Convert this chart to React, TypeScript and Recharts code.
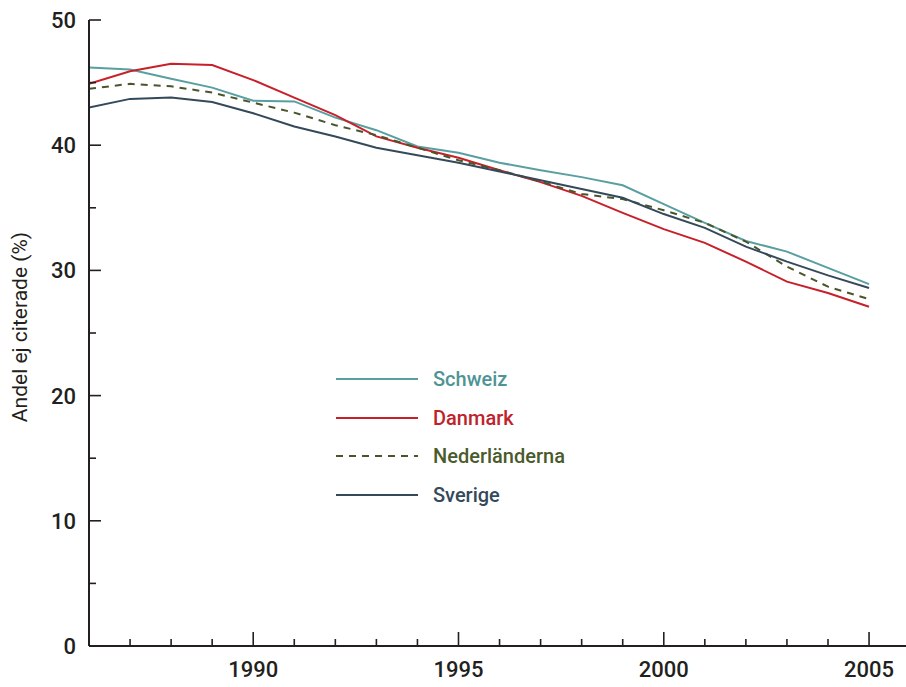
import React from "react";
import { LineChart, Line, XAxis, YAxis, Legend } from "recharts";

const years = [
  1986, 1987, 1988, 1989, 1990, 1991, 1992, 1993, 1994, 1995,
  1996, 1997, 1998, 1999, 2000, 2001, 2002, 2003, 2004, 2005,
];

const schweiz = [
  46.2, 46.05, 45.3, 44.6, 43.55, 43.5, 42.2, 41.2, 39.9, 39.4,
  38.6, 38.0, 37.45, 36.8, 35.3, 33.8, 32.35, 31.5, 30.2, 28.9,
];
const danmark = [
  44.9, 45.9, 46.5, 46.4, 45.2, 43.8, 42.4, 40.7, 39.8, 39.0,
  38.0, 37.05, 35.95, 34.6, 33.3, 32.2, 30.7, 29.1, 28.2, 27.1,
];
const nederlanderna = [
  44.5, 44.9, 44.7, 44.2, 43.4, 42.6, 41.6, 40.8, 39.8, 38.8,
  38.0, 37.1, 36.1, 35.7, 34.8, 33.8, 32.3, 30.3, 28.7, 27.7,
];
const sverige = [
  43.0, 43.7, 43.8, 43.45, 42.55, 41.5, 40.7, 39.8, 39.2, 38.6,
  37.9, 37.2, 36.5, 35.8, 34.5, 33.4, 31.9, 30.7, 29.6, 28.6,
];

const yTicks = [0, 5, 10, 15, 20, 25, 30, 35, 40, 45, 50];
const xLabelYears = [1990, 1995, 2000, 2005];

const series = [
  { key: "Schweiz", values: schweiz, color: "#5A9FA0", text: "#4F9495", dash: undefined },
  { key: "Danmark", values: danmark, color: "#C8202A", text: "#C0222B", dash: undefined },
  { key: "Nederländerna", values: nederlanderna, color: "#49552A", text: "#4A5A2B", dash: "7 6" },
  { key: "Sverige", values: sverige, color: "#34495A", text: "#34495A", dash: undefined },
];

const data = years.map((year, i) => {
  const row: { [k: string]: number } = { year };
  series.forEach((s) => {
    row[s.key] = s.values[i];
  });
  return row;
});

const INK = "#231F20";
const FONT = "Roboto, 'Open Sans', sans-serif";

const XTick = (props: any) => {
  const { x, y, payload } = props;
  const major = xLabelYears.includes(payload.value);
  return (
    <g>
      <line x1={x} x2={x} y1={y} y2={y - (major ? 14 : 7)} stroke={INK} strokeWidth={1.6} />
      {major && (
        <text x={x} y={y + 31} textAnchor="middle" fill={INK} fontSize={22} fontFamily={FONT} fontWeight={500}>
          {payload.value}
        </text>
      )}
    </g>
  );
};

const YTick = (props: any) => {
  const { x, y, payload } = props;
  const major = payload.value % 10 === 0;
  return (
    <g>
      <line x1={x} x2={x + (major ? 12 : 7)} y1={y} y2={y} stroke={INK} strokeWidth={1.6} />
      {major && (
        <text x={x - 13} y={y + 8} textAnchor="end" fill={INK} fontSize={22} fontFamily={FONT} fontWeight={500}>
          {payload.value}
        </text>
      )}
    </g>
  );
};

const LegendBox = () => (
  <div style={{ fontFamily: FONT }}>
    {series.map((s) => (
      <div key={s.key} style={{ display: "flex", alignItems: "center", height: 38.5 }}>
        <svg width={82} height={4} style={{ marginRight: 15 }}>
          <line x1={0} x2={82} y1={2} y2={2} stroke={s.color} strokeWidth={2} strokeDasharray={s.dash} />
        </svg>
        <span style={{ color: s.text, fontSize: 20, fontWeight: 500 }}>{s.key}</span>
      </div>
    ))}
  </div>
);

export default function App() {
  return (
    <div style={{ position: "absolute", left: 0, top: 0, width: 906, height: 687, background: "#fff" }}>
      <LineChart width={906} height={687} data={data} margin={{ top: 20, right: 0, bottom: 0, left: 0 }}>
        <XAxis
          dataKey="year"
          type="number"
          domain={[1986, 2005.9]}
          allowDataOverflow
          ticks={years}
          interval={0}
          height={41}
          tickSize={0}
          tickMargin={0}
          tickLine={false}
          axisLine={{ stroke: INK, strokeWidth: 2 }}
          tick={XTick}
        />
        <YAxis
          type="number"
          domain={[0, 50]}
          ticks={yTicks}
          interval={0}
          width={89}
          tickSize={0}
          tickMargin={0}
          tickLine={false}
          axisLine={{ stroke: INK, strokeWidth: 2 }}
          tick={YTick}
          label={(p: any) => {
            const vb = p.viewBox;
            const cx = vb.x + 27;
            const cy = vb.y + vb.height / 2 - 6;
            return (
              <text
                x={cx}
                y={cy}
                transform={`rotate(-90 ${cx} ${cy})`}
                textAnchor="middle"
                fill={INK}
                fontSize={21}
                fontFamily={FONT}
              >
                Andel ej citerade (%)
              </text>
            );
          }}
        />
        <Legend
          content={LegendBox}
          layout="vertical"
          align="center"
          verticalAlign="middle"
          wrapperStyle={{ position: "absolute", left: 336, top: 360, width: 260 }}
        />
        {series.map((s) => (
          <Line
            key={s.key}
            type="linear"
            dataKey={s.key}
            stroke={s.color}
            strokeWidth={2}
            strokeDasharray={s.dash}
            dot={false}
            activeDot={false}
            isAnimationActive={false}
          />
        ))}
      </LineChart>
    </div>
  );
}
